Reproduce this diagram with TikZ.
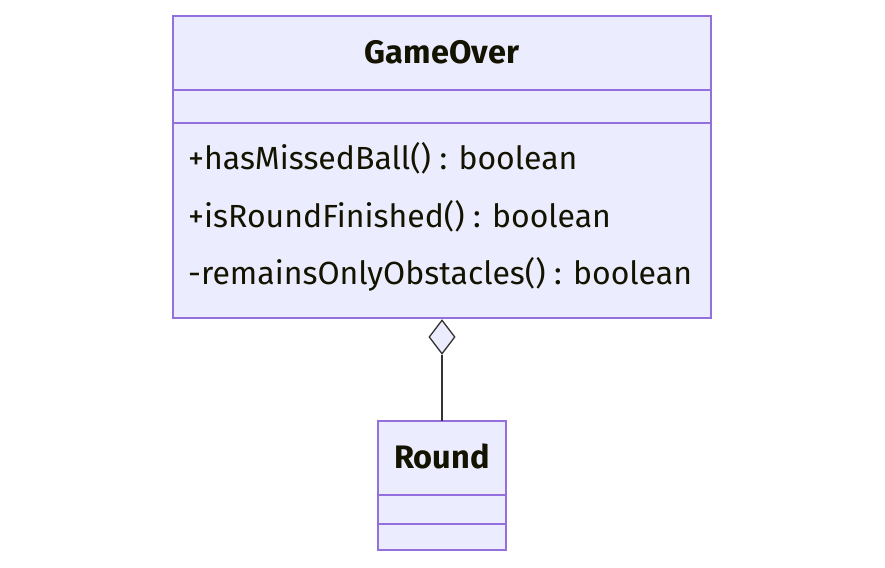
\documentclass[tikz,border=0pt]{standalone}
\usepackage{fontspec}
\setmainfont{Fira Sans}
\usetikzlibrary{shapes.geometric}
\definecolor{boxfill}{HTML}{ECECFF}
\definecolor{boxline}{HTML}{9370DB}
\definecolor{edge}{HTML}{333333}
\definecolor{txt}{HTML}{131300}
\tikzset{
  classbox/.style={draw=boxline, fill=boxfill, line width=1.3pt},
  divider/.style={draw=boxline, line width=1.3pt},
  title/.style={font=\fontsize{32.5}{38}\selectfont\bfseries, text=txt},
  member/.style={font=\fontsize{32}{38}\selectfont, text=txt, anchor=west, inner sep=0pt},
  agg/.style={diamond, draw=edge, fill=boxfill, line width=1.3pt, minimum width=26pt, minimum height=34pt, inner sep=0pt, aspect=0.76},
  link/.style={draw=edge, line width=1.3pt}
}
\begin{document}
\begin{tikzpicture}[x=1pt,y=-1pt]
\useasboundingbox (0,0) rectangle (885,567);
% GameOver
\draw[classbox] (173,16) rectangle (711,318);
\draw[divider] (173,90) -- (711,90);
\draw[divider] (173,123) -- (711,123);
\node[title] (gtitle) at (442,52) {GameOver};
\node[member] (m1) at (188,158) {+hasMissedBall() : boolean};
\node[member] (m2) at (188,216) {+isRoundFinished() : boolean};
\node[member] (m3) at (188,274) {-remainsOnlyObstacles() : boolean};
% Round
\draw[classbox] (378,421) rectangle (506,550);
\draw[divider] (378,495) -- (506,495);
\draw[divider] (378,524) -- (506,524);
\node[title] (rtitle) at (442,456) {Round};
\coordinate (rtop) at (442,421);
% aggregation
\node[agg] (dia) at (442,337) {};
\draw[link] (dia.south) -- (rtop);
\end{tikzpicture}
\end{document}
